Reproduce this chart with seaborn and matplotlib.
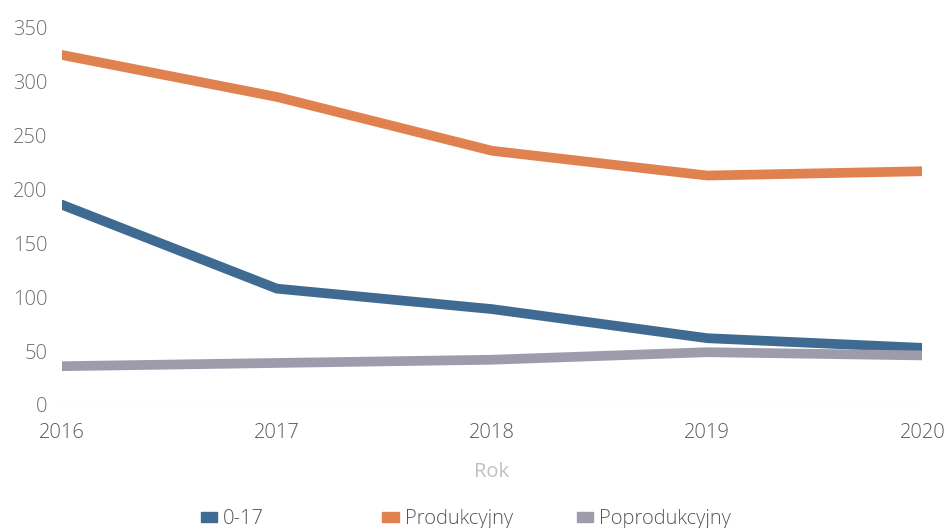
import pandas as pd
import matplotlib
matplotlib.use("Agg")
import matplotlib.pyplot as plt
import seaborn as sns
from matplotlib.patches import Patch

# dane
years = [2016, 2017, 2018, 2019, 2020]
grupa_0_17 = [186, 108, 89, 62, 53]
produkcyjny = [325, 286, 236, 213, 217]
poprodukcyjny = [36, 39, 42, 49, 46]
series_names = ["0-17", "Produkcyjny", "Poprodukcyjny"]
colors = ["#3f6b93", "#e08150", "#9d9cab"]

df = pd.DataFrame({
    "Rok": years * 3,
    "Wartosc": grupa_0_17 + produkcyjny + poprodukcyjny,
    "Grupa": [series_names[0]] * 5 + [series_names[1]] * 5 + [series_names[2]] * 5,
})

sns.set_style("white")
plt.rcParams["font.family"] = ["Open Sans", "DejaVu Sans"]
plt.rcParams["font.weight"] = "light"

fig = plt.figure(figsize=(9.49, 5.28), dpi=100)
ax = fig.add_axes([0.065, 0.233, 0.907, 0.714])

sns.lineplot(data=df, x="Rok", y="Wartosc", hue="Grupa", palette=colors,
             linewidth=7, ax=ax, legend=False)

ax.set_xlim(2016, 2020)
ax.set_ylim(0, 350)
ax.set_xticks(years)
ax.set_yticks(range(0, 351, 50))
ax.tick_params(axis="y", labelsize=14.5, labelcolor="#6e6e6e", length=0, pad=10)
ax.tick_params(axis="x", labelsize=14.5, labelcolor="#5a5a5a", length=0, pad=13)
ax.axhline(0, color="#e0e0e0", linewidth=1, linestyle=":")
for s in ax.spines.values():
    s.set_visible(False)

ax.set_xlabel("Rok", fontsize=14.5, color="#c0c0c0", labelpad=14)
ax.set_ylabel("")

# legenda - kazdy wpis osobno
legend_x = [0.212, 0.403, 0.608]
for name, c, lx in zip(series_names, colors, legend_x):
    leg = fig.legend([Patch(color=c)], [name], loc="center left",
                     bbox_to_anchor=(lx, 0.017), frameon=False, fontsize=14.5,
                     labelcolor="#555555", handlelength=0.8, handleheight=0.4,
                     handletextpad=0.3, borderpad=0, borderaxespad=0)

fig.savefig("out.png", dpi=100)
